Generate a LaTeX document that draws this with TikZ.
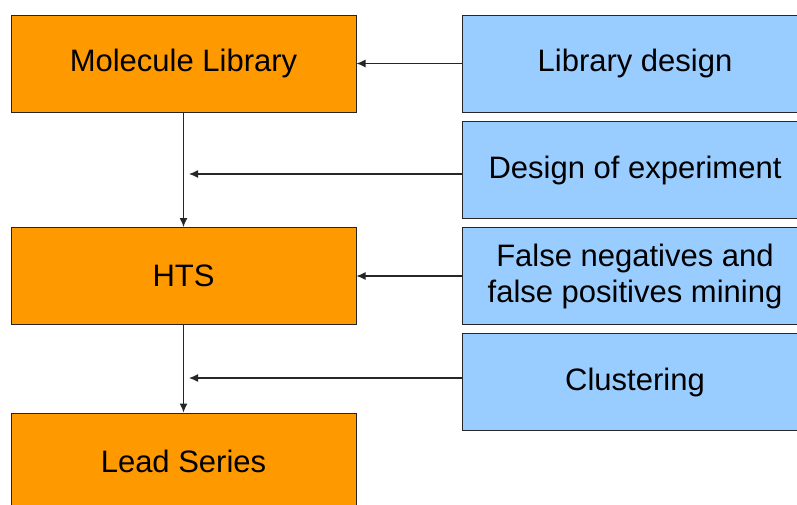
\documentclass[tikz,border=0pt]{standalone}
\usepackage{fontspec}
\setmainfont{Liberation Sans}
\usetikzlibrary{arrows.meta}
\definecolor{boxorange}{HTML}{FF9900}
\definecolor{boxblue}{HTML}{99CCFF}
\tikzset{
  orangebox/.style={draw=black!85, line width=1pt, fill=boxorange, minimum width=345pt, minimum height=97pt, inner sep=0pt, font=\fontsize{31}{36}\selectfont, align=center},
  bluebox/.style={draw=black!85, line width=1pt, fill=boxblue, minimum width=346pt, minimum height=97pt, inner sep=0pt, font=\fontsize{31}{36}\selectfont, align=center},
  conn/.style={draw=black!85, line width=1.2pt, -{Latex[length=9pt,width=8pt]}}
}
\begin{document}
\begin{tikzpicture}[x=1pt,y=-1pt]
\useasboundingbox (0,0) rectangle (797,504);
\clip (0,0) rectangle (797,504);
\node[orangebox] (ml) at (183.5,63.5) {Molecule Library};
\node[orangebox] (hts) at (183.5,276) {HTS};
\node[orangebox] (ls) at (183.5,461.5) {Lead Series};
\node[bluebox] (ld) at (635,63.5) {Library design};
\node[bluebox] (doe) at (635,170) {Design of experiment};
\node[bluebox] (fn) at (635,276) {False negatives and\\false positives mining};
\node[bluebox] (cl) at (635,382) {Clustering};
\coordinate (j1) at (189,174);
\coordinate (j2) at (189,378);
\draw[conn] (ml.south) -- (hts.north);
\draw[conn] (hts.south) -- (ls.north);
\draw[conn] (ld.west) -- (ml.east);
\draw[conn] (fn.west) -- (hts.east);
\draw[conn] (doe.west |- j1) -- (j1);
\draw[conn] (cl.west |- j2) -- (j2);
\end{tikzpicture}
\end{document}
